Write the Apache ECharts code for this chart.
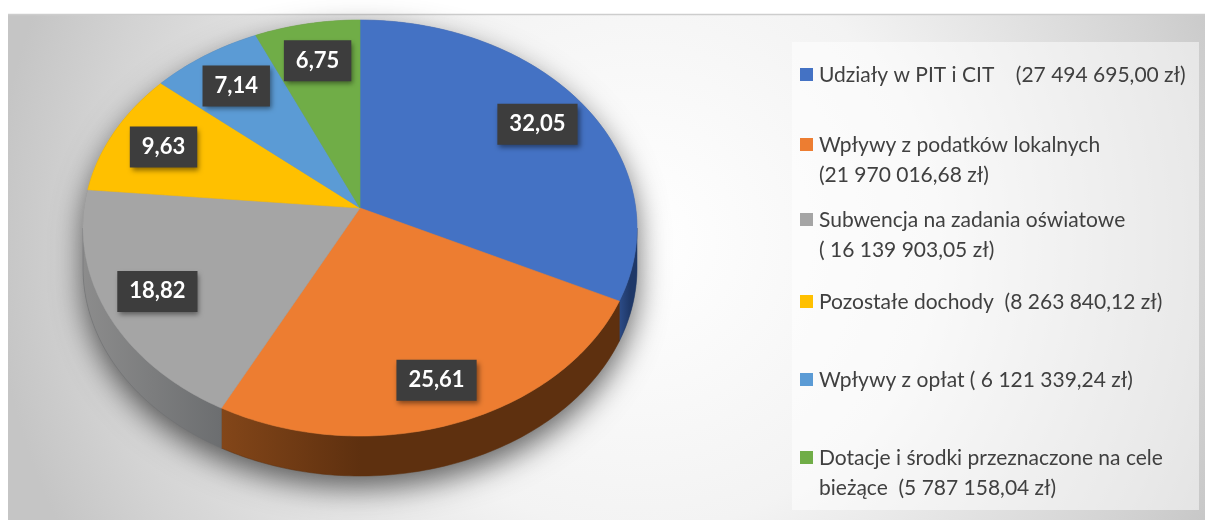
<!DOCTYPE html>
<html>
<head>
<meta charset="utf-8">
<title>Dochody</title>
<script src="https://cdn.jsdelivr.net/npm/echarts@6/dist/echarts.min.js"></script>
<style>
  html, body { margin: 0; padding: 0; background: #ffffff; }
  #chart { width: 1205px; height: 520px; }
</style>
</head>
<body>
<div id="chart"></div>
<script>
// dane
const categories = [
  'Udziały w PIT i CIT',
  'Wpływy z podatków lokalnych',
  'Subwencja na zadania oświatowe',
  'Pozostałe dochody',
  'Wpływy z opłat',
  'Dotacje i środki przeznaczone na cele bieżące'
]
const shares = [32.05, 25.61, 18.82, 9.63, 7.14, 6.75]
const legendLabels = [
  'Udziały w PIT i CIT    (27 494 695,00 zł)',
  'Wpływy z podatków lokalnych\n(21 970 016,68 zł)',
  'Subwencja na zadania oświatowe\n( 16 139 903,05 zł)',
  'Pozostałe dochody  (8 263 840,12 zł)',
  'Wpływy z opłat ( 6 121 339,24 zł)',
  'Dotacje i środki przeznaczone na cele\nbieżące  (5 787 158,04 zł)'
]

// wygląd
const colors = ['#4472C4', '#ED7D31', '#A5A5A5', '#FFC000', '#5B9BD5', '#70AD47']
// [jasny, ciemny, punkt przejścia]
const sideColors = [
  ['#2c4c88', '#1f3868', 0.6],
  ['#834619', '#5e300f', 0.35],
  ['#8c8c8c', '#6c6e70', 1],
  ['#a87e00', '#7a5c00', 1],
  ['#3c6890', '#2b4c6a', 1],
  ['#4a7430', '#355422', 1]
]
const legendY = [75, 145, 220, 302, 380, 458]

// geometria "3D"
const CX = 360, CY = 228, RX = 277, RY = 208
const VY = 208 // środek (wierzchołek) w perspektywie
const DEPTH = 40
const PERSP = 5.3 * Math.PI / 180
const FONT = 'Lato, "Open Sans", sans-serif'

const total = shares.reduce((a, b) => a + b, 0)
const cum = []
shares.reduce((acc, v, i) => { cum[i] = acc; return acc + v }, 0)

const warp = t => t - PERSP * Math.sin(t)
const pt = (phi, dy) => [CX + RX * Math.sin(phi), CY - RY * Math.cos(phi) + (dy || 0)]
const arc = (a, b, dy) => {
  const pts = []
  const n = Math.max(2, Math.ceil(Math.abs(b - a) / (Math.PI / 180)))
  for (let k = 0; k <= n; k++) pts.push(pt(a + (b - a) * k / n, dy))
  return pts
}

function renderItem (params, api) {
  const i = params.dataIndex
  const v = api.value(0)
  const t0 = cum[i] / total * Math.PI * 2
  const t1 = (cum[i] + v) / total * Math.PI * 2
  const p0 = warp(t0), p1 = warp(t1)
  const children = []

  if (i === 0) {
    // cień pod całym tortem
    const sil = arc(-Math.PI / 2, Math.PI / 2, 0).concat(arc(Math.PI / 2, Math.PI * 1.5, DEPTH))
    children.push({
      type: 'polygon',
      z2: 0,
      shape: { points: sil },
      style: { fill: '#7a7a7a', shadowBlur: 30, shadowOffsetY: 12, shadowColor: 'rgba(0,0,0,0.6)' }
    })
  }

  // ścianka boczna (tylko widoczna, przednia część)
  const a = Math.max(p0, Math.PI / 2)
  const b = Math.min(p1, Math.PI * 1.5)
  if (b > a) {
    const side = arc(a, b, 0).concat(arc(b, a, DEPTH))
    const sc = sideColors[i]
    children.push({
      type: 'polygon',
      z2: 1,
      shape: { points: side },
      style: {
        fill: new echarts.graphic.LinearGradient(0, 0, 1, 0, [
          { offset: 0, color: sc[0] },
          { offset: sc[2], color: sc[1] },
          { offset: 1, color: sc[1] }
        ]),
        stroke: sc[1],
        lineWidth: 0.5
      }
    })
  }

  // górna powierzchnia wycinka
  const top = [[CX, VY]].concat(arc(p0, p1, 0))
  children.push({
    type: 'polygon',
    z2: 2,
    shape: { points: top },
    style: { fill: colors[i], stroke: colors[i], lineWidth: 0.6 }
  })

  // etykieta z wartością
  const pm = warp((t0 + t1) / 2)
  const e = pt(pm, 0)
  const lx = CX + 0.8 * (e[0] - CX)
  const ly = VY + 0.8 * (e[1] - VY)
  children.push({
    type: 'text',
    z2: 5,
    style: {
      text: v.toFixed(2).replace('.', ','),
      x: lx,
      y: ly,
      align: 'center',
      verticalAlign: 'middle',
      fill: '#ffffff',
      font: 'bold 22px ' + FONT,
      backgroundColor: '#3d3d3d',
      padding: [10, 12, 9, 12],
      shadowBlur: 5,
      shadowOffsetX: 2,
      shadowOffsetY: 3,
      shadowColor: 'rgba(0,0,0,0.45)'
    }
  })

  return { type: 'group', children: children }
}

const legendGraphics = [{
  type: 'rect',
  z: 10,
  shape: { x: 792, y: 42, width: 407, height: 468 },
  style: { fill: 'rgba(255,255,255,0.5)' }
}]
legendLabels.forEach((txt, i) => {
  legendGraphics.push({
    type: 'rect',
    z: 11,
    shape: { x: 800, y: legendY[i] - 7, width: 13, height: 13 },
    style: { fill: colors[i] }
  })
  legendGraphics.push({
    type: 'text',
    z: 11,
    x: 819,
    y: legendY[i] - 15,
    style: {
      text: txt,
      fill: '#404040',
      font: '21px ' + FONT,
      lineHeight: 30,
      verticalAlign: 'top'
    }
  })
})

const chartBox = echarts.init(document.getElementById('chart'), null, { renderer: 'canvas' })

const option = {
  animation: false,
  backgroundColor: '#ffffff',
  graphic: [
    {
      type: 'rect',
      z: -10,
      shape: { x: 8, y: 14, width: 1197, height: 506 },
      style: {
        fill: {
          type: 'radial',
          x: 632 / 1197,
          y: 226 / 506,
          r: 1.28,
          colorStops: [
            { offset: 0, color: '#ffffff' },
            { offset: 0.45, color: '#f3f3f3' },
            { offset: 0.65, color: '#e3e3e3' },
            { offset: 0.85, color: '#d3d3d3' },
            { offset: 1, color: '#c5c5c5' }
          ]
        }
      }
    },
    {
      type: 'line',
      z: -9,
      shape: { x1: 8, y1: 14.5, x2: 1205, y2: 14.5 },
      style: { stroke: '#cdcdcd', lineWidth: 1.5 }
    }
  ].concat(legendGraphics),
  series: [
    {
      name: 'Dochody',
      type: 'custom',
      coordinateSystem: 'none',
      renderItem: renderItem,
      data: shares.map((v, i) => ({ name: categories[i], value: v }))
    }
  ]
}

chartBox.setOption(option, true)
window.addEventListener('resize', function () {
  chartBox.resize()
})
</script>
</body>
</html>
